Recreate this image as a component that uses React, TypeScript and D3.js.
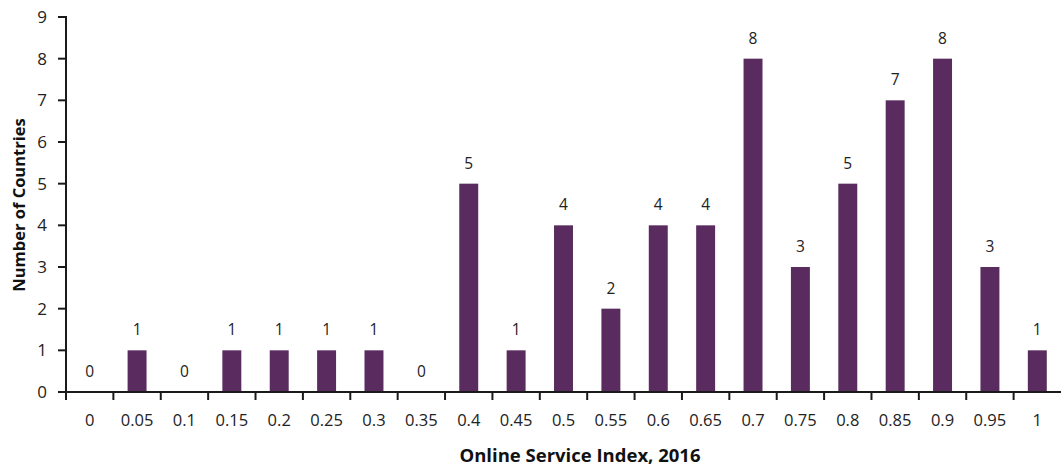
import React from "react";
import * as d3 from "d3";

const categories = ["0","0.05","0.1","0.15","0.2","0.25","0.3","0.35","0.4","0.45","0.5","0.55","0.6","0.65","0.7","0.75","0.8","0.85","0.9","0.95","1"];
const counts = [0,1,0,1,1,1,1,0,5,1,4,2,4,4,8,3,5,7,8,3,1];
const yTicks = [0,1,2,3,4,5,6,7,8,9];

const W = 1061, H = 466;
const M = { left: 66, right: 0, top: 17, bottom: 74 };
const FONT = "'Open Sans', 'Noto Sans', sans-serif";
const BAR = "#592b5e";
const AX = "#1a1a1a";

export default function App() {
  const x = d3.scaleBand<string>().domain(categories).range([M.left, W - M.right]).paddingInner(0).paddingOuter(0);
  const y = d3.scaleLinear().domain([0, 9]).range([H - M.bottom, M.top]);
  const bw = x.bandwidth();
  const barW = bw * 0.4;
  const y0 = y(0);
  return (
    <svg width={W} height={H} style={{ position: "absolute", left: 0, top: 0, display: "block" }} fontFamily={FONT}>
      <rect width={W} height={H} fill="#fff" />
      {categories.map((c, i) => {
        const cx = (x(c) as number) + bw / 2;
        const v = counts[i];
        return (
          <g key={c}>
            {v > 0 && <rect x={cx - barW / 2} y={y(v)} width={barW} height={y0 - y(v)} fill={BAR} />}
            <text x={cx} y={y(v) - 15} textAnchor="middle" fontSize={15.5} fill="#222">{v}</text>
            <text x={cx} y={y0 + 34} textAnchor="middle" fontSize={16.5} fill="#222">{c}</text>
          </g>
        );
      })}
      {categories.map((c) => (
        <line key={"t" + c} x1={x(c) as number} x2={x(c) as number} y1={y0} y2={y0 + 8} stroke={AX} strokeWidth={2} />
      ))}
      <line x1={M.left} x2={M.left} y1={y(9) - 1} y2={y0 + 1} stroke={AX} strokeWidth={2} />
      <line x1={M.left - 1} x2={W} y1={y0} y2={y0} stroke={AX} strokeWidth={2} />
      {yTicks.map((t) => (
        <g key={"y" + t}>
          <line x1={M.left - 8} x2={M.left} y1={y(t)} y2={y(t)} stroke={AX} strokeWidth={2} />
          <text x={M.left - 19} y={y(t)} dy="0.36em" textAnchor="end" fontSize={17} fill="#222">{t}</text>
        </g>
      ))}
      <text x={580} y={462} textAnchor="middle" fontSize={18.5} fontWeight="bold" fill="#111">Online Service Index, 2016</text>
      <text transform={`translate(24.5, 205) rotate(-90)`} textAnchor="middle" fontSize={16.5} fontWeight="bold" fill="#111">Number of Countries</text>
    </svg>
  );
}
